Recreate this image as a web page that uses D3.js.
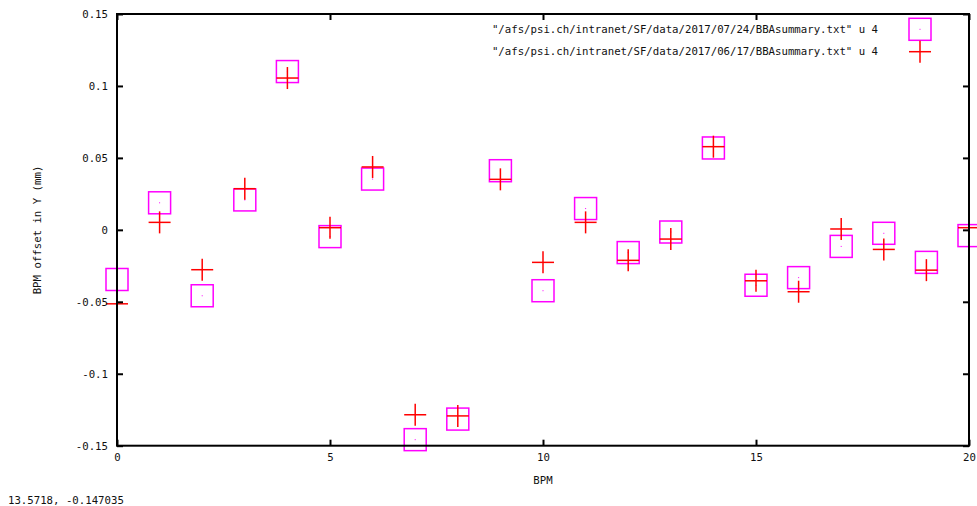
<!DOCTYPE html>
<html>
<head>
<meta charset="utf-8">
<script src="https://cdn.jsdelivr.net/npm/d3@7"></script>
<style>
  html, body { margin: 0; padding: 0; background: #fff; }
  svg { display: block; }
  text { font-family: "DejaVu Sans Mono", "Liberation Mono", monospace; font-size: 10.7px; fill: #111; }
</style>
</head>
<body>
<svg id="chart" width="977" height="506"></svg>
<script>
// ---- data ----
const bpm = [0,1,2,3,4,5,6,7,8,9,10,11,12,13,14,15,16,17,18,19,20];
const series0724 = [-0.0345, 0.0188, -0.0458, 0.0208, 0.1100, -0.0047, 0.0353, -0.1458, -0.1315, 0.0411,
                    -0.0423, 0.0148, -0.0158, -0.0015, 0.0569, -0.0385, -0.0332, -0.0115, -0.0024, -0.0226, -0.0040];
const series0617 = [-0.0514, 0.0052, -0.0277, 0.0286, 0.1055, 0.0015, 0.0437, -0.1285, -0.1293, 0.0351,
                    -0.0226, 0.0052, -0.0212, -0.0064, 0.0578, -0.0354, -0.0430, 0.0006, -0.0136, -0.0280, 0.0015];
const xTicks = [0, 5, 10, 15, 20];
const yTicks = [-0.15, -0.1, -0.05, 0, 0.05, 0.1, 0.15];
const legendLabels = [
  '"/afs/psi.ch/intranet/SF/data/2017/07/24/BBAsummary.txt" u 4',
  '"/afs/psi.ch/intranet/SF/data/2017/06/17/BBAsummary.txt" u 4'
];
const xLabel = "BPM";
const yLabel = "BPM offset in Y (mm)";
const statusText = "13.5718, -0.147035";

// ---- layout ----
const L = 117, R = 969, T = 14, B = 445.7;
const svg = d3.select("#chart");
const x = d3.scaleLinear().domain([0, 20]).range([L, R]);
const y = d3.scaleLinear().domain([-0.15, 0.15]).range([B, T]);
const fmt = d => String(+d.toFixed(2));
const magenta = "#ff00ff", red = "#ff0000";
const half = 11;

// ---- markers: squares (07/24) ----
const sq = svg.append("g");
bpm.forEach((b, i) => {
  const cx = x(b), cy = y(series0724[i]);
  sq.append("rect").attr("x", cx - half).attr("y", cy - half)
    .attr("width", 2 * half).attr("height", 2 * half)
    .attr("fill", "none").attr("stroke", magenta).attr("stroke-width", 1.5);
  sq.append("rect").attr("x", cx - 0.5).attr("y", cy - 0.5)
    .attr("width", 1).attr("height", 1).attr("fill", magenta);
});

// ---- markers: plus (06/17) ----
const pl = svg.append("g");
bpm.forEach((b, i) => {
  const cx = x(b), cy = y(series0617[i]);
  pl.append("line").attr("x1", cx - half).attr("x2", cx + half).attr("y1", cy).attr("y2", cy)
    .attr("stroke", red).attr("stroke-width", 1.5);
  pl.append("line").attr("x1", cx).attr("x2", cx).attr("y1", cy - half).attr("y2", cy + half)
    .attr("stroke", red).attr("stroke-width", 1.5);
});

// ---- axes ----
function styleAxis(g) {
  g.select(".domain").remove();
  g.selectAll(".tick line").attr("stroke", "#000").attr("stroke-width", 2);
  g.selectAll(".tick text").attr("fill", "#111")
    .style("font-family", '"DejaVu Sans Mono", monospace').style("font-size", "10.7px");
}
svg.append("g").attr("transform", `translate(${L},0)`)
  .call(d3.axisLeft(y).tickValues(yTicks).tickFormat(fmt).tickSize(-6).tickSizeOuter(0).tickPadding(9))
  .call(styleAxis);
svg.append("g").attr("transform", `translate(${R},0)`)
  .call(d3.axisRight(y).tickValues(yTicks).tickFormat("").tickSize(-6).tickSizeOuter(0))
  .call(styleAxis);
svg.append("g").attr("transform", `translate(0,${B})`)
  .call(d3.axisBottom(x).tickValues(xTicks).tickFormat(d3.format("d")).tickSize(-6).tickSizeOuter(0).tickPadding(8))
  .call(styleAxis);
svg.append("g").attr("transform", `translate(0,${T})`)
  .call(d3.axisTop(x).tickValues(xTicks).tickFormat("").tickSize(-6).tickSizeOuter(0))
  .call(styleAxis);

svg.append("rect").attr("x", L).attr("y", T).attr("width", R - L).attr("height", B - T)
  .attr("fill", "none").attr("stroke", "#000").attr("stroke-width", 2);

// ---- labels ----
svg.append("text").attr("x", x(10)).attr("y", 480).attr("dy", "0.35em")
  .attr("text-anchor", "middle").text(xLabel);
svg.append("text").attr("transform", `translate(37.5,230) rotate(-90)`).attr("dy", "0.35em")
  .attr("text-anchor", "middle").text(yLabel);
svg.append("text").attr("x", 8).attr("y", 500.5).attr("dy", "0.35em").text(statusText);

// ---- legend ----
const lg = svg.append("g");
const legY = [29.3, 51.7];
lg.append("text").attr("x", 878).attr("y", legY[0]).attr("dy", "0.35em")
  .attr("text-anchor", "end").text(legendLabels[0]);
lg.append("text").attr("x", 878).attr("y", legY[1]).attr("dy", "0.35em")
  .attr("text-anchor", "end").text(legendLabels[1]);
lg.append("rect").attr("x", 920 - half).attr("y", legY[0] - half).attr("width", 2 * half).attr("height", 2 * half)
  .attr("fill", "none").attr("stroke", magenta).attr("stroke-width", 1.5);
lg.append("rect").attr("x", 919.5).attr("y", legY[0] - 0.5).attr("width", 1).attr("height", 1).attr("fill", magenta);
lg.append("line").attr("x1", 920 - half).attr("x2", 920 + half).attr("y1", legY[1]).attr("y2", legY[1])
  .attr("stroke", red).attr("stroke-width", 1.5);
lg.append("line").attr("x1", 920).attr("x2", 920).attr("y1", legY[1] - half).attr("y2", legY[1] + half)
  .attr("stroke", red).attr("stroke-width", 1.5);
</script>
</body>
</html>
